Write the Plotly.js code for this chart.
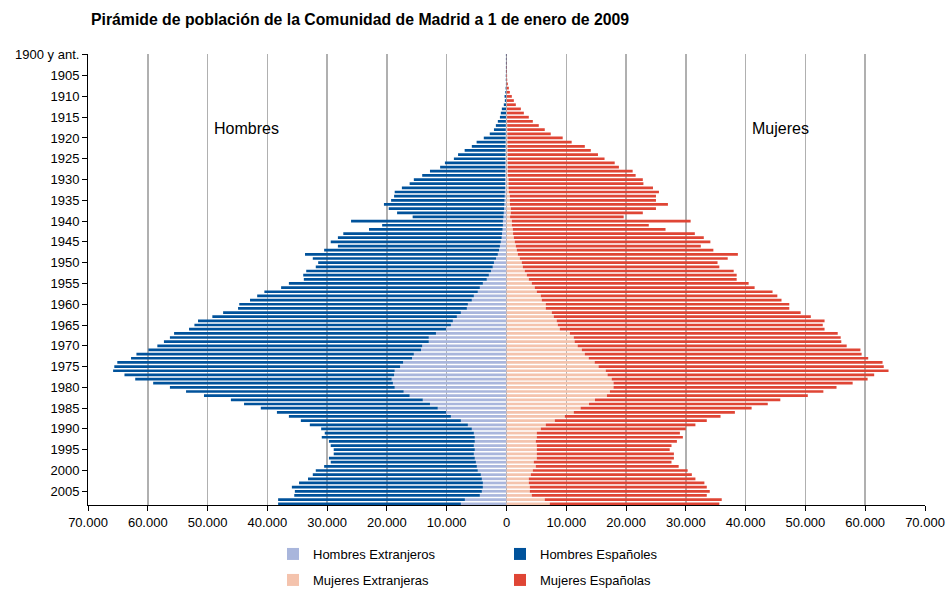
<!DOCTYPE html>
<html>
<head>
<meta charset="utf-8">
<script src="https://cdn.plot.ly/plotly-3.0.1.min.js"></script>
<style>
html,body{margin:0;padding:0;background:#fff;}
#chart{width:947px;height:589px;}
</style>
</head>
<body>
<div id="chart"></div>
<script>
// Year of birth (category), 1900 = "1900 y ant."
const years = [1900,1901,1902,1903,1904,1905,1906,1907,1908,1909,
1910,1911,1912,1913,1914,1915,1916,1917,1918,1919,
1920,1921,1922,1923,1924,1925,1926,1927,1928,1929,
1930,1931,1932,1933,1934,1935,1936,1937,1938,1939,
1940,1941,1942,1943,1944,1945,1946,1947,1948,1949,
1950,1951,1952,1953,1954,1955,1956,1957,1958,1959,
1960,1961,1962,1963,1964,1965,1966,1967,1968,1969,
1970,1971,1972,1973,1974,1975,1976,1977,1978,1979,
1980,1981,1982,1983,1984,1985,1986,1987,1988,1989,
1990,1991,1992,1993,1994,1995,1996,1997,1998,1999,
2000,2001,2002,2003,2004,2005,2006,2007,2008];

const hombresEspanoles = [100,100,100,100,100,60,60,
80,120,160,280,230,390,710,870,1010,1350,1670,1980,2670,3660,4850,5650,6840,7930,8620,10110,
10900,12600,13890,15280,15970,17250,18430,18510,18980,20150,
19300,17850,15200,25400,20200,22350,26550,27400,28450,27100,
29250,32250,30650,29400,29600,30900,31050,30600,32450,33240,
35700,36240,37100,38240,38270,39770,40900,42630,42900,43000,
43800,43300,44300,44300,45600,46400,47000,47800,47800,47100,
45100,42900,40100,37600,36400,34400,32100,31100,29600,28300,
27100,26770,26440,25200,24940,25600,24400,23940,23600,23440,
24400,24280,25540,27100,28110,29080,30750,31950,31280,31040,
31240,30570];

const hombresExtranjeros = [0,0,0,0,0,60,60,
20,30,40,50,50,60,70,80,90,100,110,120,130,140,150,150,160,170,180,190,
200,200,210,220,230,250,270,290,320,350,
400,450,500,600,600,650,750,800,950,1100,
1250,1450,1750,2100,2300,2600,2950,3300,3950,4460,
4800,5460,5800,6460,6630,7630,8300,8970,9300,10100,
11800,13000,13000,14100,14300,15500,15800,17300,17800,18700,
18800,19200,19000,18700,17200,16200,14000,12800,11500,10100,
9300,7630,6460,5800,5460,5300,5300,5460,5300,5460,
5300,5120,4960,4800,4290,4120,3950,3950,4120,4460,
6960,7630];

const mujeresEspanolas = [40,40,50,60,80,100,120,
200,360,520,840,1170,1490,2320,2810,3630,4290,5280,6270,7260,9250,10740,12930,13920,15110,16200,17890,
18580,20870,21360,22470,22570,24160,25100,24440,24440,26420,
24280,22080,19000,29900,22900,25540,30400,31770,32710,30940,
32870,36800,34770,32740,32870,34940,35100,34770,36270,36770,
39430,39560,40100,40730,40730,41620,42990,44800,44320,44290,
44800,44650,44600,45000,46600,46300,46750,48150,47700,47300,
44600,42800,40000,37300,35700,33600,31000,29900,28600,26950,
26050,25420,25030,24260,23930,24430,23600,22530,22230,22930,
22930,23030,23900,25900,26930,27870,29370,29600,30100,29270,
29600,28360];

const mujeresExtranjeras = [0,0,0,0,0,0,0,
20,30,40,50,60,70,80,90,100,110,120,130,140,150,160,170,180,190,200,210,
220,230,240,330,330,340,400,560,560,580,
720,720,600,900,900,1060,1100,1230,1390,1560,
1730,1900,2230,2560,2730,3060,3400,3730,4230,4730,
5070,5740,5900,6570,6570,7580,7910,8400,8580,8910,
10600,11250,11400,11900,12600,13100,13750,14750,15400,16600,
16900,17600,17900,17900,17300,16800,14800,13800,12400,11250,
9750,8080,6570,5740,5070,5070,4900,5070,5070,5070,
5070,4570,4900,4400,4070,3730,3730,3900,3900,4230,
6400,7240];

const yTickVals = [1900,1905,1910,1915,1920,1925,1930,1935,1940,1945,1950,1955,1960,1965,1970,1975,1980,1985,1990,1995,2000,2005];
const yTickText = ['1900 y ant.','1905','1910','1915','1920','1925','1930','1935','1940','1945','1950','1955','1960','1965','1970','1975','1980','1985','1990','1995','2000','2005'];
const xTickVals = [-70000,-60000,-50000,-40000,-30000,-20000,-10000,0,10000,20000,30000,40000,50000,60000,70000];
const xTickText = ['70.000','60.000','50.000','40.000','30.000','20.000','10.000','0','10.000','20.000','30.000','40.000','50.000','60.000','70.000'];

const neg = a => a.map(v => -v);
const FONT = 'Liberation Sans, Arial, sans-serif';

const traces = [
  {type:'bar', orientation:'h', name:'Hombres Extranjeros', y:years, x:neg(hombresExtranjeros),
   marker:{color:'#a9b6dc'}, legend:'legend', hoverinfo:'skip'},
  {type:'bar', orientation:'h', name:'Hombres Españoles', y:years, x:neg(hombresEspanoles),
   marker:{color:'#00529b'}, legend:'legend', hoverinfo:'skip'},
  {type:'bar', orientation:'h', name:'Mujeres Extranjeras', y:years, x:mujeresExtranjeras,
   marker:{color:'#f4c3ad'}, legend:'legend2', hoverinfo:'skip'},
  {type:'bar', orientation:'h', name:'Mujeres Españolas', y:years, x:mujeresEspanolas,
   marker:{color:'#df4535'}, legend:'legend2', hoverinfo:'skip'}
];

const legendCommon = {
  orientation:'h', xref:'container', yref:'container', xanchor:'left', yanchor:'middle',
  font:{family:FONT, size:13, color:'#000'}, entrywidth:182, entrywidthmode:'pixels',
  itemwidth:30, bgcolor:'rgba(0,0,0,0)', traceorder:'normal'
};

const layout = {
  width:947, height:589,
  paper_bgcolor:'#fff', plot_bgcolor:'#fff',
  margin:{l:88, r:22, t:54.2, b:84},
  barmode:'relative', bargap:0.35,
  font:{family:FONT, size:13, color:'#000'},
  title:{text:'<b>Pirámide de población de la Comunidad de Madrid a 1 de enero de 2009</b>',
    font:{family:FONT, size:15.8, color:'#000'},
    xref:'container', yref:'container', x:91/947, xanchor:'left', y:1-19/589, yanchor:'middle'},
  xaxis:{range:[-70000,70000], tickvals:xTickVals, ticktext:xTickText,
    showgrid:true, gridcolor:'#b0b0b0', gridwidth:1.5, zeroline:false,
    showline:true, linecolor:'#000', linewidth:1, ticks:'outside', ticklen:5, tickcolor:'#000',
    tickfont:{family:FONT, size:13, color:'#000'}, fixedrange:true},
  yaxis:{range:[2008.3,1899.8], tickvals:yTickVals, ticktext:yTickText,
    showgrid:false, zeroline:false, showline:true, linecolor:'#000', linewidth:1,
    ticks:'outside', ticklen:5, tickcolor:'#000',
    tickfont:{family:FONT, size:13, color:'#000'}, fixedrange:true},
  legend:Object.assign({}, legendCommon, {x:273/947, y:1-554/589}),
  legend2:Object.assign({}, legendCommon, {x:273/947, y:1-580/589}),
  annotations:[
    {text:'Hombres', xref:'x', yref:'y', x:-43500, y:1917.8, showarrow:false,
     font:{family:FONT, size:16, color:'#000'}},
    {text:'Mujeres', xref:'x', yref:'y', x:45800, y:1917.8, showarrow:false,
     font:{family:FONT, size:16, color:'#000'}}
  ]
};

Plotly.newPlot('chart', traces, layout, {displayModeBar:false, staticPlot:true});
</script>
</body>
</html>
